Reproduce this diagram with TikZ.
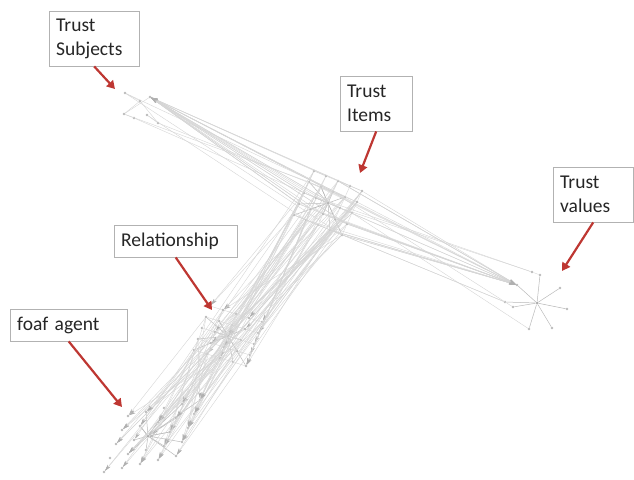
\documentclass[tikz,border=0pt]{standalone}
\usepackage{fontspec}
\setmainfont{Carlito}
\usetikzlibrary{arrows.meta}
\definecolor{ptr}{RGB}{190,55,50}
\begin{document}
\begin{tikzpicture}[x=1pt,y=-1pt,
  gnode/.style={circle,fill=gray!55,inner sep=0pt,minimum size=2.6pt},
  hubnode/.style={circle,fill=gray!65,inner sep=0pt,minimum size=3pt},
  edge/.style={draw=gray!33,line width=0.4pt},
  spoke/.style={draw=gray!55,line width=0.5pt},
  tipedge/.style={edge,-{Stealth[length=6.5pt,width=3.2pt,gray!62]}},
  lbl/.style={draw=gray!60,fill=white,text=black!85,font=\fontsize{19.5}{24}\selectfont,
    align=left,anchor=north west,inner xsep=7pt,inner ysep=0pt},
  pointer/.style={draw=ptr,line width=2.2pt,-{Triangle[length=8pt,width=9pt]}}
]
\useasboundingbox (0,0) rectangle (634,479);
\pgfmathsetseed{12}

% ---- Trust Items cluster
\node[hubnode] (tih) at (328,203) {};
\foreach \i in {0,...,4}{\foreach \j in {0,...,4}{
  \node[gnode] (ti-\i-\j) at ({328+12*(\i-2)-5*(\j-2)},{203+5*(\i-2)+11*(\j-2)}) {};
}}
% ---- Relationship cluster
\node[hubnode] (rh) at (228,336) {};
\foreach \i in {0,...,4}{\foreach \j in {0,...,4}{
  \node[gnode] (re-\i-\j) at ({228+13*(\i-2)-4*(\j-2)},{336+4*(\i-2)+11*(\j-2)}) {};
}}
% ---- foaf agent cluster
\node[hubnode] (fh) at (148,436) {};
\foreach \i in {0,...,4}{\foreach \j in {0,...,4}{
  \node[gnode] (fa-\i-\j) at ({152+18*(\i-2)-6*(\j-2)},{436-4*(\i-2)+14*(\j-2)}) {};
}}
% ---- Trust Subjects cluster
\node[gnode] (tsa) at (150,97) {};
\node[gnode] (ts1) at (125,93) {};
\node[gnode] (ts2) at (140,101) {};
\node[gnode] (ts3) at (124,114) {};
\node[gnode] (ts4) at (134,118) {};
\node[gnode] (ts5) at (147,115) {};
\node[gnode] (ts6) at (158,123) {};
% ---- Trust values cluster
\node[hubnode] (tvh) at (537,303) {};
\node[gnode] (tva) at (517,285) {};
\node[gnode] (tv1) at (532,272) {};
\node[gnode] (tv2) at (540,275) {};
\node[gnode] (tv3) at (560,288) {};
\node[gnode] (tv4) at (567,309) {};
\node[gnode] (tv5) at (552,328) {};
\node[gnode] (tv6) at (529,329) {};
\node[gnode] (tv7) at (513,307) {};
\node[gnode] (tv8) at (505,302) {};

% ---- local structure
\foreach \i in {1,...,3}{\foreach \j in {1,...,3}{
  \draw[spoke] (tih) -- (ti-\i-\j);
  \draw[spoke] (rh) -- (re-\i-\j);
  \draw[spoke] (fh) -- (fa-\i-\j);
}}
\foreach \k in {1,...,8}{
  \pgfmathtruncatemacro\a{random(0,4)}
  \pgfmathtruncatemacro\b{random(0,4)}
  \draw[spoke] (tih) -- (ti-\a-\b);
  \draw[spoke] (rh) -- (re-\a-\b);
  \draw[spoke] (fh) -- (fa-\b-\a);
}
\foreach \i in {0,...,3}{\foreach \j in {0,...,4}{
  \pgfmathtruncatemacro\n{\i+1}
  \draw[edge] (ti-\i-\j) -- (ti-\n-\j);
  \draw[edge] (ti-\j-\i) -- (ti-\j-\n);
  \draw[edge] (re-\i-\j) -- (re-\n-\j);
}}
\draw[edge] (ts1) -- (ts2) -- (ts3) -- (ts4);
\draw[edge] (tsa) -- (ts3);
\draw[edge] (ts2) -- (ts6);
\draw[edge] (ts5) -- (ts6);
\foreach \t in {tva,tv2,tv3,tv4,tv5,tv6,tv7,tv8}{\draw[spoke] (tvh) -- (\t);}
\draw[edge] (tv1) -- (tv2);

% ---- Trust Items -> Trust Subjects
\foreach \k in {1,...,22}{
  \pgfmathtruncatemacro\a{random(0,4)}
  \pgfmathtruncatemacro\b{random(0,3)}
  \draw[tipedge] (ti-\a-\b) -- (tsa);
}
\foreach \t in {ts1,ts3,ts5,ts6,ts4,ts1}{
  \pgfmathtruncatemacro\a{random(0,4)}
  \pgfmathtruncatemacro\b{random(0,4)}
  \draw[edge] (ti-\a-\b) -- (\t);
}
% ---- Trust Items -> Trust values
\foreach \k in {1,...,22}{
  \pgfmathtruncatemacro\a{random(0,4)}
  \pgfmathtruncatemacro\b{random(0,4)}
  \draw[tipedge] (ti-\a-\b) -- (tva);
}
\foreach \t in {tv1,tv1,tv8,tv7,tv6,tv8}{
  \pgfmathtruncatemacro\a{random(0,4)}
  \pgfmathtruncatemacro\b{random(1,4)}
  \draw[edge] (ti-\a-\b) -- (\t);
}
% ---- Trust Items -> Relationship
\foreach \k in {1,...,25}{
  \pgfmathtruncatemacro\a{random(0,4)}
  \pgfmathtruncatemacro\b{random(0,4)}
  \pgfmathtruncatemacro\c{random(0,4)}
  \pgfmathtruncatemacro\d{random(0,4)}
  \draw[tipedge] (ti-\a-\b) -- (re-\c-\d);
}
% ---- Trust Items -> foaf agent
\foreach \k in {1,...,40}{
  \pgfmathtruncatemacro\a{random(0,4)}
  \pgfmathtruncatemacro\b{random(0,4)}
  \pgfmathtruncatemacro\c{random(0,4)}
  \pgfmathtruncatemacro\d{random(0,4)}
  \draw[tipedge] (ti-\a-\b) -- (fa-\c-\d);
}
% ---- Relationship -> foaf agent
\foreach \k in {1,...,25}{
  \pgfmathtruncatemacro\a{random(0,4)}
  \pgfmathtruncatemacro\b{random(0,4)}
  \pgfmathtruncatemacro\c{random(0,4)}
  \pgfmathtruncatemacro\d{random(0,4)}
  \draw[tipedge] (re-\a-\b) -- (fa-\c-\d);
}

% ---- labels
\node[lbl,minimum height=55pt,text width=76pt] (lts) at (49,11) {Trust\\Subjects};
\node[lbl,minimum height=55pt,text width=58pt] (lti) at (340,76) {Trust\\Items};
\node[lbl,minimum height=55pt,text width=66pt] (ltv) at (553,167) {Trust\\values};
\node[lbl,minimum height=32pt,text width=109pt] (lrel) at (114,225) {Relationship};
\node[lbl,minimum height=32pt,text width=103pt] (lfoaf) at (10,309) {foaf agent};

\coordinate (pts) at (115,89);
\coordinate (pti) at (360,173);
\coordinate (ptv) at (562,271);
\coordinate (prel) at (212,310);
\coordinate (pfoaf) at (122,407);
\draw[pointer] (lts.south) -- (pts);
\draw[pointer] (lti.south) -- (pti);
\draw[pointer] (ltv.south) -- (ptv);
\draw[pointer] (lrel.south) -- (prel);
\draw[pointer] (lfoaf.south) -- (pfoaf);
\end{tikzpicture}
\end{document}
